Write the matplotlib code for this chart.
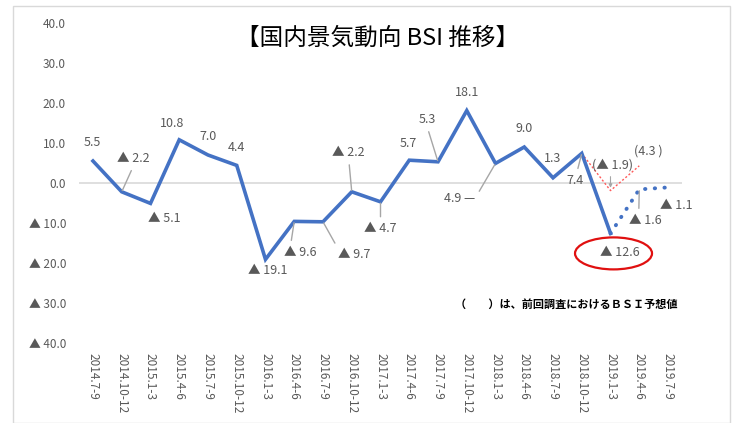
import matplotlib
matplotlib.use("Agg")
import matplotlib.pyplot as plt
import matplotlib.transforms as mtransforms
from matplotlib.patches import Ellipse, Rectangle

plt.rcParams['font.family'] = ['Noto Sans CJK JP', 'DejaVu Sans']

# ---------------- data ----------------
categories = ["2014.7-9", "2014.10-12", "2015.1-3", "2015.4-6", "2015.7-9",
              "2015.10-12", "2016.1-3", "2016.4-6", "2016.7-9", "2016.10-12",
              "2017.1-3", "2017.4-6", "2017.7-9", "2017.10-12", "2018.1-3",
              "2018.4-6", "2018.7-9", "2018.10-12", "2019.1-3", "2019.4-6",
              "2019.7-9"]
actual = [5.5, -2.2, -5.1, 10.8, 7.0, 4.4, -19.1, -9.6, -9.7, -2.2,
          -4.7, 5.7, 5.3, 18.1, 4.9, 9.0, 1.3, 7.4, -12.6]
forecast_idx = [18, 19, 20]
forecast = [-12.6, -1.6, -1.1]
prev_idx = [17, 18, 19]
prev_forecast = [7.4, -1.9, 4.3]
yticks = [40, 30, 20, 10, 0, -10, -20, -30, -40]
title = "【国内景気動向 BSI 推移】"
note = "（　　）は、前回調査におけるＢＳＩ予想値"


def fmt(v):
    return f"{v:.1f}" if v >= 0 else f"▲ {abs(v):.1f}"


W, H = 736, 423
fig = plt.figure(figsize=(W / 100, H / 100), dpi=100)
fig.patch.set_facecolor('white')
fig.patches.append(Rectangle((13 / W, 0.0), (730 - 13) / W, (H - 6) / H,
                             transform=fig.transFigure, fill=False,
                             edgecolor='#d9d9d9', lw=1.0))

ax = fig.add_axes([78.6 / W, 80 / H, 603.8 / W, 320 / H])
ax.set_xlim(-0.5, len(categories) - 0.5)
ax.set_ylim(-40, 40)
for s in ax.spines.values():
    s.set_visible(False)
ax.axhline(0, color='#d9d9d9', lw=1.2, zorder=1)

ax.set_yticks(yticks)
ax.set_yticklabels([fmt(v) for v in yticks], color='#595959', fontsize=8.5)
ax.set_xticks(range(len(categories)))
ax.set_xticklabels(categories, rotation=270, color='#595959', fontsize=8.5,
                   va='top', ha='center')
ax.tick_params(axis='both', length=0)
ax.tick_params(axis='y', pad=9)
ax.tick_params(axis='x', pad=7)

blue = '#4472c4'
ax.plot(range(len(actual)), actual, color=blue, lw=2.6, zorder=3,
        solid_joinstyle='miter')
ax.plot(forecast_idx, forecast, color=blue, lw=2.8, zorder=3,
        linestyle=(0, (0.1, 2.4)), dash_capstyle='round')
ax.plot(prev_idx, prev_forecast, color='#ff5a5a', lw=1.0, zorder=2,
        linestyle=(0, (1.5, 1.5)))

lab_col = '#595959'
lead_col = '#a6a6a6'

# (index, value, text, dx, dy, leader relpos or None)
labels = [
    (0, actual[0], fmt(actual[0]), -1, 18, None),
    (1, actual[1], fmt(actual[1]), 12, 33, (0.5, 0.0)),
    (2, actual[2], fmt(actual[2]), 14, -15, None),
    (3, actual[3], fmt(actual[3]), -7, 16, None),
    (4, actual[4], fmt(actual[4]), 0, 18, None),
    (5, actual[5], fmt(actual[5]), 0, 18, None),
    (6, actual[6], fmt(actual[6]), 2, -11, None),
    (7, actual[7], fmt(actual[7]), 6, -31, (0.2, 1.0)),
    (8, actual[8], fmt(actual[8]), 31, -33, (0.0, 1.0)),
    (9, actual[9], fmt(actual[9]), -3, 39, (0.5, 0.0)),
    (10, actual[10], fmt(actual[10]), 0, -27, (0.5, 1.0)),
    (11, actual[11], fmt(actual[11]), -1, 17, None),
    (12, actual[12], fmt(actual[12]), -11, 42, (0.5, 0.0)),
    (13, actual[13], fmt(actual[13]), 0, 18, None),
    (14, actual[14], fmt(actual[14]) + " —", -36, -35, (1.0, 0.5)),
    (15, actual[15], fmt(actual[15]), 0, 19, None),
    (16, actual[16], fmt(actual[16]), 0, 19, None),
    (17, actual[17], fmt(actual[17]), -7, -27, (0.6, 1.0)),
    (18, actual[18], fmt(actual[18]), 9, -19, None),
    (19, forecast[1], fmt(forecast[1]), 6, -31, (0.3, 1.0)),
    (20, forecast[2], fmt(forecast[2]), 8, -18, None),
]
for i, v, t, dx, dy, rel in labels:
    kw = {}
    if rel is not None:
        kw['arrowprops'] = dict(arrowstyle='-', color=lead_col, lw=1.0,
                                relpos=rel, shrinkA=2, shrinkB=1)
    ax.annotate(t, xy=(i, v), xytext=(dx, dy), textcoords='offset pixels',
                ha='center', va='center', fontsize=9, color=lab_col,
                zorder=5, **kw)

# previous-forecast labels
ax.annotate(f"(▲ {abs(prev_forecast[1]):.1f})", xy=(prev_idx[1], prev_forecast[1]),
            xytext=(2, 26), textcoords='offset pixels', ha='center',
            va='center', fontsize=9, color=lab_col, zorder=5,
            arrowprops=dict(arrowstyle='-|>', color=lead_col, lw=0.8,
                            mutation_scale=5, relpos=(0.45, 0.0),
                            shrinkA=2, shrinkB=2))
ax.annotate(f"({prev_forecast[2]:.1f} )", xy=(prev_idx[2], prev_forecast[2]),
            xytext=(9, 15), textcoords='offset pixels', ha='center',
            va='center', fontsize=9, color=lab_col, zorder=5)

# red ellipse around latest value
trans = (mtransforms.Affine2D().translate(3, -20)
         + mtransforms.ScaledTranslation(18, actual[18], ax.transData))
ax.add_patch(Ellipse((0, 0), 77, 32, transform=trans, fill=False,
                     edgecolor='#e01010', lw=1.6, zorder=6, clip_on=False))

fig.text(378 / W, 1 - 38 / H, title, ha='center', va='center',
         fontsize=17, color='black')
fig.text(566 / W, 1 - 304 / H, note, ha='center', va='center',
         fontsize=8, color='black', fontweight='bold')

fig.savefig('out.png', dpi=100)
